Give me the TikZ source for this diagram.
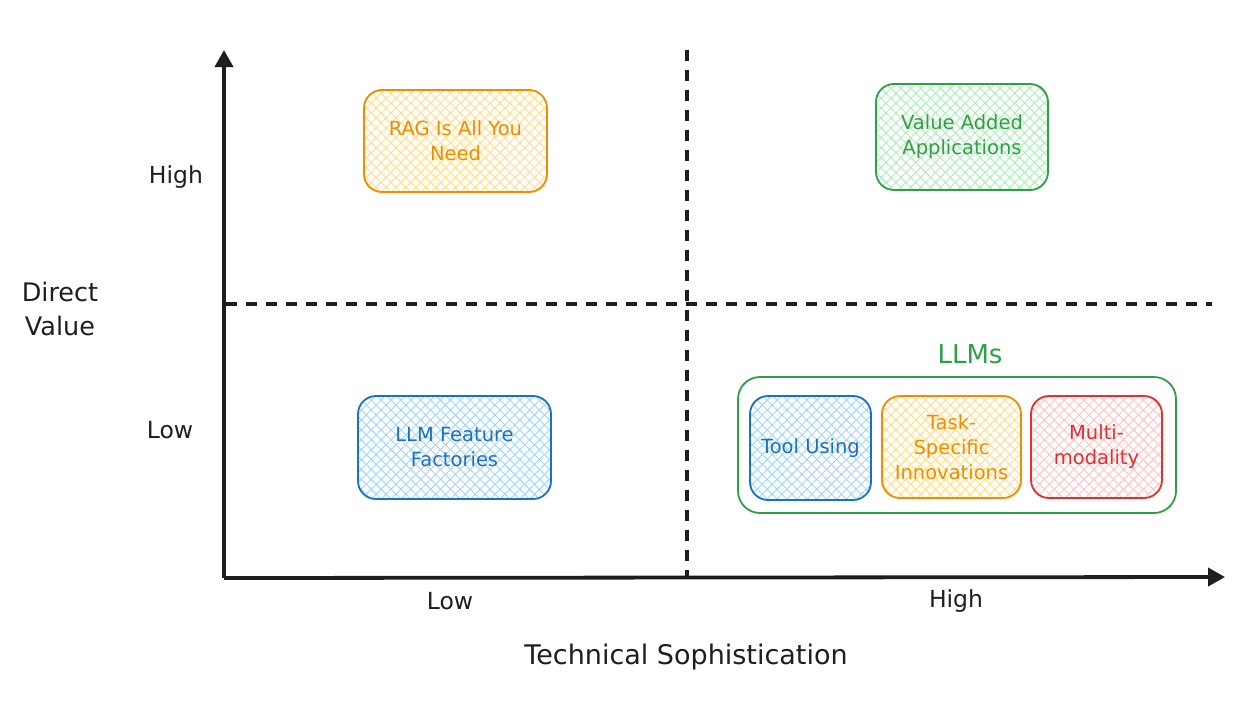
\documentclass[tikz,border=0pt]{standalone}
\usepackage{fontspec}
\setmainfont{DejaVu Sans}
\usetikzlibrary{patterns.meta,arrows.meta}
\definecolor{cor}{HTML}{F08C00}
\definecolor{cgr}{HTML}{2F9E44}
\definecolor{cbl}{HTML}{1971C2}
\definecolor{crd}{HTML}{E03131}
\definecolor{for}{HTML}{FFDD80}
\definecolor{fgr}{HTML}{A8EEB4}
\definecolor{fbl}{HTML}{9DD4FF}
\definecolor{frd}{HTML}{FFC2C2}
\definecolor{ink}{HTML}{1E1E1E}
\tikzset{
  hatchbox/.style 2 args={draw=#1, text=#1, line width=1.8pt, rounded corners=18pt,
    align=center, font=\fontsize{19.5}{25}\selectfont, inner sep=0pt,
    preaction={pattern={Lines[angle=45,distance=7pt,line width=0.9pt]}, pattern color=#2},
    preaction={pattern={Lines[angle=-45,distance=7pt,line width=0.9pt]}, pattern color=#2}},
  axislbl/.style={text=ink, font=\fontsize{23.5}{30}\selectfont, align=center},
  axisline/.style={draw=ink, line width=3.8pt, -{Triangle[length=17pt,width=18pt]}},
  divider/.style={draw=ink, line width=3.3pt, dash pattern=on 11pt off 9pt}
}
\begin{document}
\begin{tikzpicture}[x=1pt,y=-1pt]
\useasboundingbox (0,0) rectangle (1238,712);
% axes
\coordinate (o) at (224,578);
\coordinate (ytop) at (224,50);
\coordinate (xend) at (1225,577);
\draw[axisline] (o) -- (ytop);
\draw[axisline] (o) -- (xend);
% dividers
\coordinate (vt) at (687,50);
\coordinate (vb) at (687,578);
\coordinate (hl) at (226,304);
\coordinate (hr) at (1212,304);
\draw[divider] (vt) -- (vb);
\draw[divider] (hl) -- (hr);
% axis labels
\node[axislbl] (yhigh) at (176,177) {High};
\node[axislbl] (ylow) at (170,430) {Low};
\node[axislbl, font=\fontsize{25.5}{34}\selectfont] (ytitle) at (60,309) {Direct\\Value};
\node[axislbl] (xlow) at (450,601) {Low};
\node[axislbl] (xhigh) at (956,601) {High};
\node[axislbl, font=\fontsize{27}{30}\selectfont] (xtitle) at (686,657) {Technical Sophistication};
% boxes
\node[hatchbox={cor}{for}, minimum width=183pt, minimum height=102pt] (rag) at (455.5,141) {RAG Is All You\\Need};
\node[hatchbox={cgr}{fgr}, minimum width=172pt, minimum height=106pt] (vaa) at (962,137) {Value Added\\Applications};
\node[hatchbox={cbl}{fbl}, minimum width=193pt, minimum height=103pt] (llmf) at (454.5,447.5) {LLM Feature\\Factories};
% LLMs group
\node[draw=cgr, line width=1.8pt, rounded corners=22pt, minimum width=438pt, minimum height=136pt] (grp) at (957,445) {};
\node[text=cgr, font=\fontsize{26}{30}\selectfont] (grplbl) at (970,354) {LLMs};
\node[hatchbox={cbl}{fbl}, minimum width=121pt, minimum height=104pt] (tool) at (810.5,448) {Tool Using};
\node[hatchbox={cor}{for}, minimum width=139pt, minimum height=102pt] (task) at (951.5,447) {Task-\\Specific\\Innovations};
\node[hatchbox={crd}{frd}, minimum width=131pt, minimum height=102pt] (multi) at (1096.5,447) {Multi-\\modality};
\end{tikzpicture}
\end{document}
